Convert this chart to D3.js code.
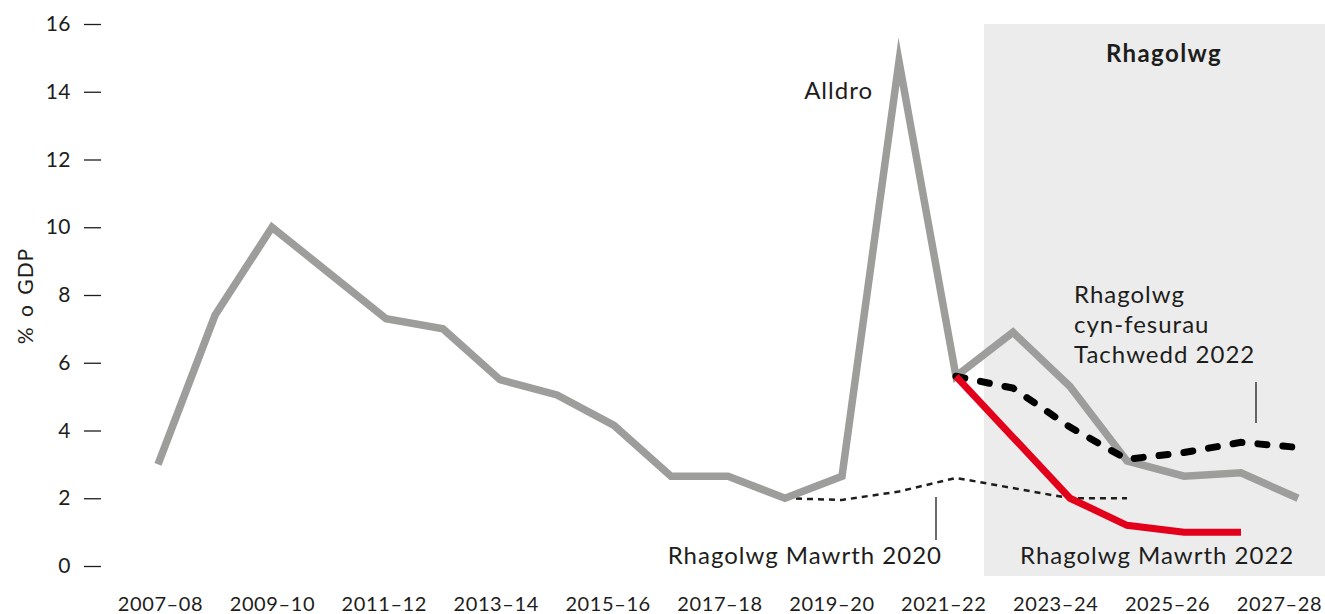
<!DOCTYPE html>
<html>
<head>
<meta charset="utf-8">
<script src="https://cdn.jsdelivr.net/npm/d3@7"></script>
<style>
  html, body { margin: 0; padding: 0; background: #fff; }
  svg { display: block; font-family: Lato, "Noto Sans", sans-serif; font-weight: 400; }
  .tick text { fill: #1d1d1b; }
</style>
</head>
<body>
<svg id="chart" width="1325" height="614"></svg>
<script>
// Fiscal years plotted on the chart
const years = ["2007-08","2008-09","2009-10","2010-11","2011-12","2012-13","2013-14",
  "2014-15","2015-16","2016-17","2017-18","2018-19","2019-20","2020-21","2021-22",
  "2022-23","2023-24","2024-25","2025-26","2026-27","2027-28"];

// Labels shown along the x axis (every second year)
const xTickLabels = ["2007–08","2009–10","2011–12","2013–14","2015–16","2017–18",
  "2019–20","2021–22","2023–24","2025–26","2027–28"];

const yTicks = [0, 2, 4, 6, 8, 10, 12, 14, 16];

// Outturn (Alldro), % of GDP
const outturn = [3.0, 7.4, 10.0, 8.65, 7.3, 7.0, 5.5, 5.05, 4.15, 2.65, 2.65, 2.0, 2.65,
  14.9, 5.6, 6.9, 5.3, 3.1, 2.65, 2.75, 2.0];

// Pre-measures forecast, November 2022 (starts at 2021-22)
const nov2022Years = ["2021-22","2022-23","2023-24","2024-25","2025-26","2026-27","2027-28"];
const nov2022 = [5.6, 5.25, 4.1, 3.15, 3.35, 3.65, 3.5];

// March 2022 forecast
const mar2022Years = ["2021-22","2022-23","2023-24","2024-25","2025-26","2026-27"];
const mar2022 = [5.6, 3.8, 2.0, 1.2, 1.0, 1.0];

// March 2020 forecast
const mar2020Years = ["2018-19","2019-20","2020-21","2021-22","2022-23","2023-24","2024-25"];
const mar2020 = [2.0, 1.95, 2.2, 2.6, 2.3, 2.0, 2.0];

const forecastStart = "2022-23";

const svg = d3.select("#chart");
const W = 1325, H = 614;

const x = d3.scalePoint().domain(years).range([158, 1298]);
const xLab = d3.scalePoint().domain(xTickLabels).range([160, 1279]);
const y = d3.scaleLinear().domain([0, 16]).range([566, 24]);

const ink = "#1d1d1b";

// Forecast shading
svg.append("rect")
  .attr("x", x(forecastStart) - 29)
  .attr("y", y(16))
  .attr("width", W - (x(forecastStart) - 29))
  .attr("height", y(0) + 10 - y(16))
  .attr("fill", "#ececec");

svg.append("text")
  .attr("x", 1164).attr("y", 62)
  .attr("text-anchor", "middle")
  .attr("font-size", 24).attr("font-weight", 700)
  .attr("letter-spacing", 1.4)
  .attr("fill", ink)
  .text("Rhagolwg");

// Y axis
const yAxis = d3.axisLeft(y).tickValues(yTicks).tickSize(17).tickPadding(13);
const gy = svg.append("g").attr("transform", "translate(101,0)").call(yAxis)
  .attr("font-family", null);
gy.select(".domain").remove();
gy.selectAll(".tick line").attr("stroke", ink).attr("stroke-width", 1.3);
gy.selectAll(".tick text").attr("font-size", 21).attr("letter-spacing", 0.5);

svg.append("text")
  .attr("transform", "translate(33,296) rotate(-90)")
  .attr("text-anchor", "middle")
  .attr("font-size", 21).attr("letter-spacing", 1).attr("word-spacing", 3)
  .attr("fill", ink)
  .text("% o GDP");

// X axis labels
const xAxis = d3.axisBottom(xLab).tickSize(0).tickPadding(0);
const gx = svg.append("g").attr("transform", "translate(0,597)").call(xAxis)
  .attr("font-family", null);
gx.select(".domain").remove();
gx.selectAll(".tick text").attr("font-size", 20).attr("letter-spacing", 0.6)
  .attr("dy", "0.71em");

const line = d3.line().x(d => x(d[0])).y(d => y(d[1]));

// March 2020 forecast: thin dotted
svg.append("path")
  .attr("d", line(mar2020Years.map((yr, i) => [yr, mar2020[i]])))
  .attr("fill", "none").attr("stroke", ink)
  .attr("stroke-width", 2.5).attr("stroke-dasharray", "6,5");

// Outturn: grey
svg.append("path")
  .attr("d", line(years.map((yr, i) => [yr, outturn[i]])))
  .attr("fill", "none").attr("stroke", "#9d9d9c")
  .attr("stroke-width", 7.5).attr("stroke-linejoin", "miter")
  .attr("stroke-miterlimit", 10);

// November 2022 pre-measures forecast: thick dashed
svg.append("path")
  .attr("d", line(nov2022Years.map((yr, i) => [yr, nov2022[i]])))
  .attr("fill", "none").attr("stroke", "#000")
  .attr("stroke-width", 7).attr("stroke-linecap", "round")
  .attr("stroke-dasharray", "9,16");

// March 2022 forecast: red
svg.append("path")
  .attr("d", line(mar2022Years.map((yr, i) => [yr, mar2022[i]])))
  .attr("fill", "none").attr("stroke", "#e2001a")
  .attr("stroke-width", 7);

// Annotations
const ann = svg.append("g").attr("fill", ink).attr("font-size", 24)
  .attr("letter-spacing", 1);
ann.append("text").attr("x", 873).attr("y", 99).attr("text-anchor", "end").text("Alldro");

const nov = ann.append("text").attr("x", 1074).attr("y", 303);
["Rhagolwg", "cyn-fesurau", "Tachwedd 2022"].forEach((t, i) =>
  nov.append("tspan").attr("x", 1074).attr("dy", i ? 30 : 0).text(t));

ann.append("text").attr("x", 942).attr("y", 564).attr("text-anchor", "end")
  .text("Rhagolwg Mawrth 2020");
ann.append("text").attr("x", 1020).attr("y", 564)
  .text("Rhagolwg Mawrth 2022");

// Leader lines
svg.append("line").attr("x1", 936).attr("x2", 936).attr("y1", 497).attr("y2", 540)
  .attr("stroke", ink).attr("stroke-width", 1.3);
svg.append("line").attr("x1", 1256).attr("x2", 1256).attr("y1", 382).attr("y2", 423)
  .attr("stroke", ink).attr("stroke-width", 1.3);
</script>
</body>
</html>
